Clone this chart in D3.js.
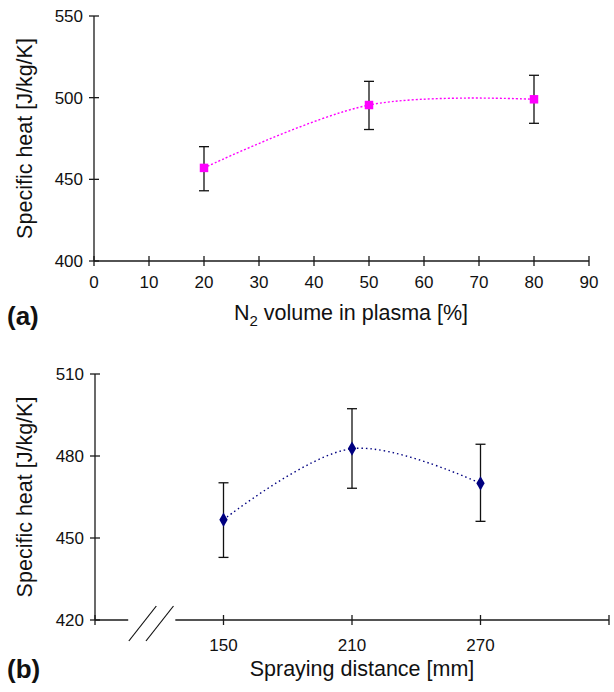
<!DOCTYPE html>
<html>
<head>
<meta charset="utf-8">
<script src="https://cdn.jsdelivr.net/npm/d3@7"></script>
<style>
  html, body { margin: 0; padding: 0; background: #fff; }
  svg text { font-family: "Liberation Sans", Arial, Helvetica, sans-serif; fill: #111; }
</style>
</head>
<body>
<svg id="chart" width="614" height="692"></svg>
<script>
// Panel (a): specific heat vs. N2 volume in plasma
const n2Volume = [20, 50, 80];
const heatA = [457, 495.5, 499];
const heatALow = [443, 480.5, 484.3];
const heatAHigh = [470, 510, 513.7];
const xTicksA = [0, 10, 20, 30, 40, 50, 60, 70, 80, 90];
const yTicksA = [400, 450, 500, 550];

// Panel (b): specific heat vs. spraying distance
const sprayDistance = [150, 210, 270];
const heatB = [456.7, 482.7, 470];
const heatBLow = [442.9, 468.2, 456.1];
const heatBHigh = [470.2, 497.3, 484.3];
const xTicksB = [150, 210, 270];
const yTicksB = [420, 450, 480, 510];

const svg = d3.select("#chart");
const axisColor = "#1a1a1a";
const tickFont = 17;
const titleFont = 21.5;

function panel(opts) {
  const g = svg.append("g");
  const x = d3.scaleLinear().domain(opts.xDomain).range(opts.xRange);
  const y = d3.scaleLinear().domain(opts.yDomain).range(opts.yRange);
  const y0 = y.range()[0];
  const x0 = x.range()[0];

  // y axis line with crossing ticks
  g.append("line")
    .attr("x1", x0).attr("x2", x0)
    .attr("y1", y.range()[1]).attr("y2", y0)
    .attr("stroke", axisColor).attr("stroke-width", 1.3);
  g.selectAll(".ytick").data(opts.yTicks).enter().append("line")
    .attr("x1", x0 - 5).attr("x2", x0 + 5)
    .attr("y1", d => y(d)).attr("y2", d => y(d))
    .attr("stroke", axisColor).attr("stroke-width", 1.3);
  g.selectAll(".ylab").data(opts.yTicks).enter().append("text")
    .attr("x", x0 - 11).attr("y", d => y(d))
    .attr("dy", "0.36em").attr("text-anchor", "end")
    .attr("font-size", tickFont).text(d => d);

  // x axis line (optionally broken)
  if (opts.xBreak) {
    const [b0, b1] = opts.xBreak;
    g.append("line").attr("x1", x0).attr("x2", x(b0)).attr("y1", y0).attr("y2", y0)
      .attr("stroke", axisColor).attr("stroke-width", 1.3);
    g.append("line").attr("x1", x(b1)).attr("x2", x.range()[1]).attr("y1", y0).attr("y2", y0)
      .attr("stroke", axisColor).attr("stroke-width", 1.3);
    // break marks
    opts.breakMarks.forEach(v => {
      const cx = x(v);
      g.append("line")
        .attr("x1", cx - 16.5).attr("y1", y0 + 21)
        .attr("x2", cx + 11).attr("y2", y0 - 14)
        .attr("stroke", "#111").attr("stroke-width", 1.2);
    });
  } else {
    g.append("line").attr("x1", x0).attr("x2", x.range()[1]).attr("y1", y0).attr("y2", y0)
      .attr("stroke", axisColor).attr("stroke-width", 1.3);
  }
  g.selectAll(".xtick").data(opts.xTickMarks).enter().append("line")
    .attr("x1", d => x(d)).attr("x2", d => x(d))
    .attr("y1", y0 - 5).attr("y2", y0 + 5)
    .attr("stroke", axisColor).attr("stroke-width", 1.3);
  g.selectAll(".xlab").data(opts.xTicks).enter().append("text")
    .attr("x", d => x(d)).attr("y", y0 + opts.xLabelOffset)
    .attr("text-anchor", "middle").attr("font-size", tickFont).text(d => d);

  // axis titles
  g.append("text")
    .attr("transform", `translate(${opts.yTitleX},${(y.range()[0] + y.range()[1]) / 2}) rotate(-90)`)
    .attr("text-anchor", "middle").attr("dy", "0.36em")
    .attr("font-size", titleFont).text("Specific heat [J/kg/K]");
  const xt = g.append("text")
    .attr("x", opts.xTitleX).attr("y", opts.xTitleY)
    .attr("text-anchor", "middle").attr("font-size", titleFont);
  opts.xTitle(xt);

  // panel letter
  g.append("text").attr("x", 7).attr("y", opts.letterY)
    .attr("font-size", 26).attr("font-weight", "bold").text(opts.letter);

  const pts = opts.xs.map((v, i) => ({ x: v, y: opts.ys[i], lo: opts.lo[i], hi: opts.hi[i] }));

  // smoothed dotted connecting line
  const line = d3.line().x(d => x(d.x)).y(d => y(d.y)).curve(d3.curveCatmullRom.alpha(0.5));
  g.append("path").datum(pts).attr("d", line)
    .attr("fill", "none").attr("stroke", opts.color)
    .attr("stroke-width", 1.4).attr("stroke-dasharray", opts.dash);

  // error bars
  const eb = g.selectAll(".eb").data(pts).enter().append("g");
  eb.append("line").attr("x1", d => x(d.x)).attr("x2", d => x(d.x))
    .attr("y1", d => y(d.lo)).attr("y2", d => y(d.hi))
    .attr("stroke", "#111").attr("stroke-width", 1.3);
  eb.append("line").attr("x1", d => x(d.x) - 5).attr("x2", d => x(d.x) + 5)
    .attr("y1", d => y(d.lo)).attr("y2", d => y(d.lo))
    .attr("stroke", "#111").attr("stroke-width", 1.3);
  eb.append("line").attr("x1", d => x(d.x) - 5).attr("x2", d => x(d.x) + 5)
    .attr("y1", d => y(d.hi)).attr("y2", d => y(d.hi))
    .attr("stroke", "#111").attr("stroke-width", 1.3);

  // markers
  g.selectAll(".mk").data(pts).enter().append("path")
    .attr("transform", d => `translate(${x(d.x)},${y(d.y)})`)
    .attr("d", d3.symbol().type(opts.symbol).size(opts.symbolSize))
    .attr("fill", opts.color);
}

panel({
  xDomain: [0, 90], xRange: [94, 589],
  yDomain: [400, 550], yRange: [261, 16],
  xTicks: xTicksA, xTickMarks: xTicksA, yTicks: yTicksA,
  xLabelOffset: 27,
  xs: n2Volume, ys: heatA, lo: heatALow, hi: heatAHigh,
  color: "#ff00ff", dash: "2,2",
  symbol: d3.symbolSquare, symbolSize: 72,
  yTitleX: 24, xTitleX: 351, xTitleY: 320,
  xTitle: t => {
    t.append("tspan").text("N");
    t.append("tspan").attr("font-size", 15).attr("dy", 6).text("2");
    t.append("tspan").attr("dy", -6).text(" volume in plasma [%]");
  },
  letter: "(a)", letterY: 325
});

panel({
  xDomain: [90, 330], xRange: [95, 609],
  yDomain: [420, 510], yRange: [620, 374],
  xTicks: xTicksB, xTickMarks: [90].concat(xTicksB, [330]), yTicks: yTicksB,
  xBreak: [105.5, 127.5], breakMarks: [113.5, 121.5],
  xLabelOffset: 31,
  xs: sprayDistance, ys: heatB, lo: heatBLow, hi: heatBHigh,
  color: "#000080", dash: "1.5,3",
  symbol: d3.symbolDiamond, symbolSize: 60,
  yTitleX: 24, xTitleX: 362, xTitleY: 676,
  xTitle: t => t.text("Spraying distance [mm]"),
  letter: "(b)", letterY: 678
});
</script>
</body>
</html>
